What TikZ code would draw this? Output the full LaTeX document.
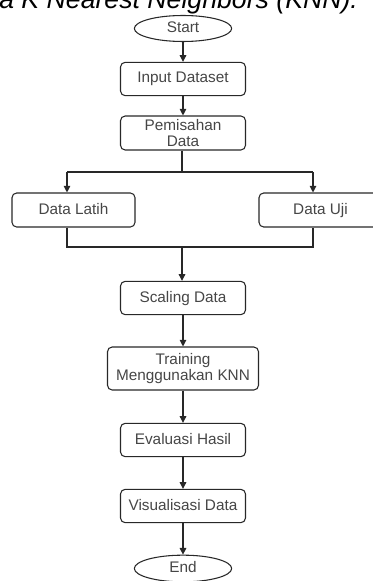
\documentclass[tikz,border=0pt]{standalone}
\usepackage{fontspec}
\setmainfont{Liberation Sans}
\usetikzlibrary{shapes.geometric,arrows.meta}

\definecolor{lineclr}{RGB}{40,40,40}
\definecolor{textclr}{RGB}{70,70,70}

\tikzset{
  boxbase/.style={draw=lineclr, line width=0.8pt, rounded corners=3.5pt, fill=white,
    minimum width=93.75pt, minimum height=25pt, align=center, inner sep=1pt,
    text=textclr, font=\fontsize{11.5}{12.5}\selectfont},
  procbox/.style={boxbase, text height=8.5pt, text depth=2.5pt},
  termnode/.style={draw=lineclr, line width=0.8pt, ellipse, fill=white,
    minimum width=73pt, minimum height=19.5pt, inner sep=0pt,
    text height=8.5pt, text depth=2.5pt,
    text=textclr, font=\fontsize{11.5}{12.5}\selectfont},
  flow/.style={draw=lineclr, line width=0.8pt, -{Triangle[length=5pt,width=5pt]}},
  joint/.style={draw=lineclr, line width=0.8pt}
}

\begin{document}
\begin{tikzpicture}[x=0.75pt,y=0.75pt,yscale=-1,xscale=1]
\useasboundingbox (0,0) rectangle (373,581);
\clip (0,0) rectangle (373,581);

%Caption, cut at the top
\node [anchor=base west, inner sep=0pt, font=\fontsize{20}{22}\selectfont\itshape] (caption) at (-1,9) {a K Nearest Neighbors (KNN).};

%Terminal: start
\node [termnode] (start) at (183,28.5) {Start};
%Process boxes
\node [procbox] (input) at (183,79) {Input Dataset};
\node [boxbase, minimum height=25.5pt] (split) at (183,133) {Pemisahan\\Data};
\node [procbox, minimum width=92.25pt, minimum height=25.5pt] (latih) at (73.5,210) {Data Latih};
\node [procbox, minimum width=92.25pt, minimum height=25.5pt] (uji) at (320.5,210) {Data Uji};
\node [procbox] (scaling) at (183,298) {Scaling Data};
\node [boxbase, minimum width=113.25pt, minimum height=32.25pt] (training) at (183,368.5) {Training\\Menggunakan KNN};
\node [procbox] (eval) at (183,440) {Evaluasi Hasil};
\node [procbox] (visual) at (183,506) {Visualisasi Data};
%Terminal: end
\node [termnode, minimum height=20pt] (end) at (183,568.5) {End};

%Branch and merge points
\coordinate (fork) at (182,172);
\coordinate (forkl) at (67,172);
\coordinate (forkr) at (313,172);
\coordinate (merge) at (182,247);
\coordinate (mergel) at (67,247);
\coordinate (merger) at (313,247);

%Straight Lines
\draw [flow] (start) -- (input);
\draw [flow] (input) -- (split);
\draw [joint] (split.south -| fork) -- (fork);
\draw [joint] (forkl) -- (forkr);
\draw [flow] (forkl) -- (forkl |- latih.north);
\draw [flow] (forkr) -- (forkr |- uji.north);
\draw [joint] (latih.south -| mergel) -- (mergel) -- (merger) -- (uji.south -| merger);
\draw [flow] (merge) -- (merge |- scaling.north);
\draw [flow] (scaling) -- (training);
\draw [flow] (training) -- (eval);
\draw [flow] (eval) -- (visual);
\draw [flow] (visual) -- (end);

\end{tikzpicture}
\end{document}
